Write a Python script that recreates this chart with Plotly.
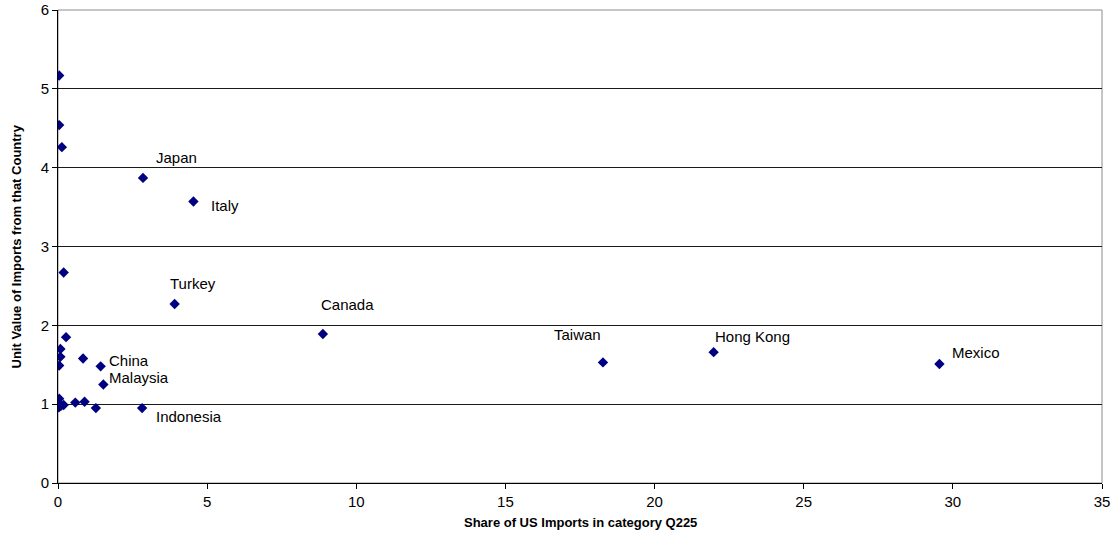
import plotly.graph_objects as go

# Share of US imports (%) and unit value for each source country
share = [0.04, 0.04, 0.13, 2.85, 4.54, 0.19, 3.91, 8.88, 0.27, 0.08, 0.08, 0.04,
         0.84, 1.43, 1.52, 0.04, 0.03, 0.10, 0.19, 0.58, 0.89, 1.27, 2.82,
         18.27, 21.98, 29.55]
unit_value = [5.17, 4.54, 4.26, 3.87, 3.57, 2.67, 2.27, 1.89, 1.85, 1.70, 1.60, 1.49,
              1.58, 1.48, 1.25, 1.07, 0.96, 0.98, 0.99, 1.02, 1.03, 0.95, 0.95,
              1.53, 1.66, 1.51]

# Labelled countries: (name, index into the arrays above)
label_names = ["Japan", "Italy", "Turkey", "Canada", "Taiwan", "Hong Kong",
               "Mexico", "China", "Malaysia", "Indonesia"]
label_index = [3, 4, 6, 7, 23, 24, 25, 13, 14, 22]
# pixel offsets of the label (left edge / vertical centre) from the point
label_dx = [11, 16, -7, -4, -51, -1, 11, 6, 4, 12]
label_dy = [20, -4, 21, 30, 28, 16, 11, 6, 7, -8]

x_ticks = [0, 5, 10, 15, 20, 25, 30, 35]
y_ticks = [0, 1, 2, 3, 4, 5, 6]

FONT = "Liberation Sans, Arial, sans-serif"

fig = go.Figure()
fig.add_trace(go.Scatter(
    x=share, y=unit_value, mode="markers",
    marker=dict(symbol="diamond", size=8, color="#000080"),
    hoverinfo="x+y", showlegend=False,
))

for name, i, dx, dy in zip(label_names, label_index, label_dx, label_dy):
    fig.add_annotation(
        x=share[i], y=unit_value[i], text=name, showarrow=False,
        xanchor="left", yanchor="middle", xshift=dx, yshift=dy,
        font=dict(family=FONT, size=15, color="black"),
    )

# axis titles
fig.add_annotation(x=0.5, y=0, xref="paper", yref="paper", yanchor="middle",
                   yshift=-39, showarrow=False,
                   text="<b>Share of US Imports in category Q225</b>",
                   font=dict(family=FONT, size=13, color="black"))
fig.add_annotation(x=0, y=0.5, xref="paper", yref="paper", xanchor="center",
                   xshift=-42, showarrow=False, textangle=-90,
                   text="<b>Unit Value of Imports from that Country</b>",
                   font=dict(family=FONT, size=13, color="black"))

fig.add_shape(type="rect", xref="paper", yref="paper", x0=0, y0=0, x1=1, y1=1,
              line=dict(color="#8c8c8c", width=1), layer="below")

fig.update_layout(
    width=1116, height=537,
    margin=dict(l=58, r=14, t=10, b=54),
    paper_bgcolor="white", plot_bgcolor="white",
    font=dict(family=FONT, size=15, color="black"),
    xaxis=dict(
        range=[0, 35], tickvals=x_ticks, automargin=False,
        showgrid=False, zeroline=False,
        showline=True, linecolor="black", linewidth=1,
        ticks="outside", ticklen=5, tickcolor="black",
    ),
    yaxis=dict(
        range=[0, 6], tickvals=y_ticks, automargin=False,
        showgrid=True, gridcolor="#1a1a1a", gridwidth=1, zeroline=False,
        showline=True, linecolor="black", linewidth=1,
        ticks="outside", ticklen=5, tickcolor="black",
    ),
)

# remove the browser's default 8px body margin so the figure sits at the page corner
fig.write_html("out.html", config={"displayModeBar": False},
               post_script="document.body.style.margin='0';")
